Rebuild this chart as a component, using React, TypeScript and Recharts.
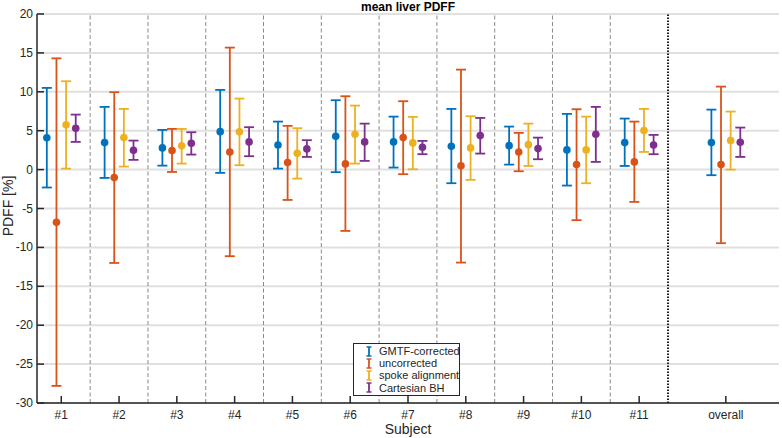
import React from "react";
import {
  CartesianGrid,
  ErrorBar,
  Legend,
  ReferenceLine,
  Scatter,
  ScatterChart,
  XAxis,
  YAxis
} from "recharts";

const subjects = ["#1", "#2", "#3", "#4", "#5", "#6", "#7", "#8", "#9", "#10", "#11", "overall"];
const subjectPos = [1, 2, 3, 4, 5, 6, 7, 8, 9, 10, 11, 12.5];
const separators = [1.5, 2.5, 3.5, 4.5, 5.5, 6.5, 7.5, 8.5, 9.5, 10.5];
const yTicks = [-30, -25, -20, -15, -10, -5, 0, 5, 10, 15, 20];

const gmtfMean = [4.1, 3.47, 2.79, 4.88, 3.17, 4.29, 3.56, 3.0, 3.08, 2.53, 3.47, 3.47];
const gmtfLow = [-2.3, -1.07, 0.51, -0.42, 0.13, -0.33, 0.26, -1.75, 0.64, -2.05, 0.47, -0.72];
const gmtfHigh = [10.5, 8.06, 5.1, 10.24, 6.17, 8.92, 6.81, 7.8, 5.53, 7.16, 6.56, 7.71];

const uncorrMean = [-6.76, -1.03, 2.44, 2.27, 0.9, 0.73, 4.11, 0.48, 2.27, 0.64, 0.99, 0.64];
const uncorrLow = [-27.8, -12.0, -0.3, -11.13, -3.9, -7.88, -0.59, -11.95, -0.21, -6.5, -4.15, -9.46];
const uncorrHigh = [14.3, 9.95, 5.23, 15.68, 5.62, 9.43, 8.79, 12.85, 4.72, 7.76, 6.17, 10.67];

const spokeMean = [5.75, 4.11, 3.05, 4.85, 2.1, 4.55, 3.43, 2.79, 3.21, 2.53, 5.01, 3.73];
const spokeLow = [0.13, 0.39, 0.77, 0.56, -1.16, 0.77, 0.04, -1.32, 0.47, -1.75, 2.27, 0.0];
const spokeHigh = [11.36, 7.8, 5.23, 9.13, 5.32, 8.23, 6.77, 6.86, 5.91, 6.81, 7.8, 7.46];

const cartMean = [5.3, 2.49, 3.39, 3.56, 2.66, 3.56, 2.88, 4.37, 2.7, 4.55, 3.17, 3.52];
const cartLow = [3.56, 1.25, 1.93, 1.72, 1.63, 1.12, 1.98, 2.06, 1.33, 0.99, 1.98, 1.63];
const cartHigh = [7.07, 3.73, 4.8, 5.45, 3.78, 5.91, 3.69, 6.64, 4.11, 8.06, 4.46, 5.4];

const FONT = '"Liberation Sans", Arial, Helvetica, sans-serif';
const INK = "#262626";

const series = [
  { name: "GMTF-corrected", color: "#0072BD", offset: -0.25, mean: gmtfMean, low: gmtfLow, high: gmtfHigh },
  { name: "uncorrected", color: "#D95319", offset: -0.0833, mean: uncorrMean, low: uncorrLow, high: uncorrHigh },
  { name: "spoke alignment", color: "#EDB120", offset: 0.0833, mean: spokeMean, low: spokeLow, high: spokeHigh },
  { name: "Cartesian BH", color: "#7E2F8E", offset: 0.25, mean: cartMean, low: cartLow, high: cartHigh }
];

function buildPoints(s: (typeof series)[number]) {
  return s.mean.map((m, i) => ({
    x: subjectPos[i] + s.offset,
    y: m,
    err: [m - s.low[i], s.high[i] - m]
  }));
}

function XTick({ x, y, payload }: any) {
  const idx = subjectPos.indexOf(payload.value);
  return (
    <g>
      <line x1={x} x2={x} y1={y} y2={y - 7} stroke={INK} strokeWidth={1.5} />
      <text x={x} y={y + 16} textAnchor="middle" fontSize={12} fontFamily={FONT} fill={INK}>
        {subjects[idx]}
      </text>
    </g>
  );
}

function YTick({ x, y, payload }: any) {
  return (
    <g>
      <line x1={x} x2={x + 7} y1={y} y2={y} stroke={INK} strokeWidth={1.5} />
      <text x={x - 4} y={y + 4} textAnchor="end" fontSize={12} fontFamily={FONT} fill={INK}>
        {payload.value}
      </text>
    </g>
  );
}

function LegendBox() {
  return (
    <div
      style={{
        boxSizing: "border-box",
        width: 107,
        height: 53,
        border: "1.5px solid #262626",
        background: "#fff",
        padding: "1px 0 0 10px",
        fontFamily: FONT,
        fontSize: 11,
        color: INK,
        lineHeight: "12.2px",
        whiteSpace: "nowrap"
      }}
    >
      {series.map((s) => (
        <div key={s.name} style={{ display: "flex", alignItems: "center", height: 12.2 }}>
          <svg width={10} height={11} style={{ marginRight: 5, flex: "none" }}>
            <line x1={5} x2={5} y1={1} y2={10} stroke={s.color} strokeWidth={1.8} />
            <line x1={2.5} x2={7.5} y1={1} y2={1} stroke={s.color} strokeWidth={1.5} />
            <line x1={2.5} x2={7.5} y1={10} y2={10} stroke={s.color} strokeWidth={1.5} />
          </svg>
          <span>{s.name}</span>
        </div>
      ))}
    </div>
  );
}

export default function App() {
  return (
    <div style={{ position: "relative", width: 782, height: 438, background: "#fff" }}>
      <style>{"body{margin:0}"}</style>
      <div
        style={{
          position: "absolute",
          top: 0,
          left: 37,
          width: 742,
          textAlign: "center",
          fontFamily: FONT,
          fontWeight: "bold",
          fontSize: 12,
          color: "#000",
          lineHeight: "14px"
        }}
      >
        mean liver PDFF
      </div>
      <div
        style={{
          position: "absolute",
          left: 8,
          top: 206,
          transform: "translate(-50%, -50%) rotate(-90deg)",
          fontFamily: FONT,
          fontSize: 14,
          color: INK,
          whiteSpace: "nowrap"
        }}
      >
        PDFF [%]
      </div>
      <div
        style={{
          position: "absolute",
          left: 408,
          top: 429,
          transform: "translate(-50%, -50%)",
          fontFamily: FONT,
          fontSize: 14,
          color: INK,
          whiteSpace: "nowrap"
        }}
      >
        Subject
      </div>
      <ScatterChart width={782} height={438} margin={{ top: 14, right: 3, bottom: 0, left: 0 }}>
        <CartesianGrid vertical={false} stroke="#e0e0e0" strokeWidth={2} />
        <XAxis
          type="number"
          dataKey="x"
          domain={[0.58, 13.42]}
          ticks={subjectPos}
          interval={0}
          height={35}
          tickSize={0}
          tickMargin={0}
          tick={<XTick />}
          axisLine={{ stroke: INK, strokeWidth: 1.5 }}
          tickLine={false}
          allowDataOverflow
        />
        <YAxis
          type="number"
          dataKey="y"
          domain={[-30, 20]}
          ticks={yTicks}
          interval={0}
          width={37}
          tickSize={0}
          tickMargin={0}
          tick={<YTick />}
          axisLine={{ stroke: INK, strokeWidth: 1.5 }}
          tickLine={false}
          allowDataOverflow
        />
        {separators.map((s) => (
          <ReferenceLine key={s} x={s} stroke="#8a8a8a" strokeWidth={1} strokeDasharray="4 2.5" />
        ))}
        <ReferenceLine x={11.5} stroke="#1a1a1a" strokeWidth={2} strokeDasharray="1.5 1.5" />
        {series.map((s) => (
          <Scatter
            key={s.name}
            name={s.name}
            data={buildPoints(s)}
            fill={s.color}
            isAnimationActive={false}
            shape={(p: any) => <circle cx={p.cx} cy={p.cy} r={3.8} fill={s.color} />}
          >
            <ErrorBar dataKey="err" direction="y" width={5} stroke={s.color} strokeWidth={1.8} />
          </Scatter>
        ))}
        <Legend
          layout="vertical"
          align="center"
          verticalAlign="middle"
          content={<LegendBox />}
          wrapperStyle={{ left: 353, top: 343, width: 107, height: 53 }}
        />
      </ScatterChart>
    </div>
  );
}
